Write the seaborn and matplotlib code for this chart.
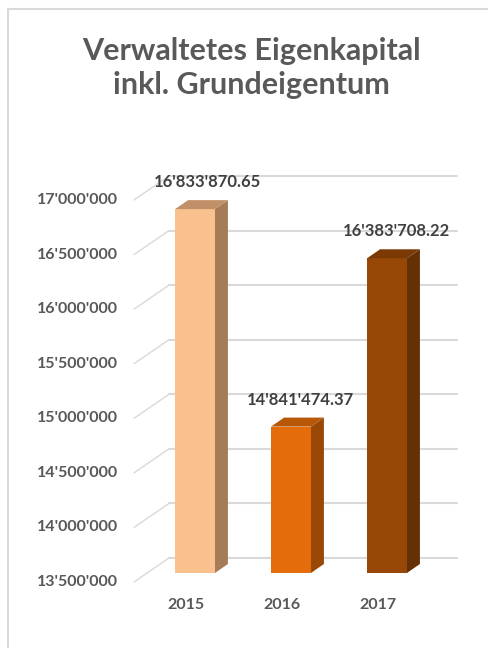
import matplotlib
matplotlib.use("Agg")
import matplotlib.pyplot as plt
import pandas as pd
import seaborn as sns
from matplotlib.patches import Polygon
from matplotlib.lines import Line2D

# Data
years = ['2015', '2016', '2017']
values = [16833870.65, 14841474.37, 16383708.22]
value_labels = ["16'833'870.65", "14'841'474.37", "16'383'708.22"]
y_ticks = [13500000, 14000000, 14500000, 15000000, 15500000, 16000000, 16500000, 17000000]
y_tick_labels = ["13'500'000", "14'000'000", "14'500'000", "15'000'000",
                 "15'500'000", "16'000'000", "16'500'000", "17'000'000"]
title = 'Verwaltetes Eigenkapital\ninkl. Grundeigentum'

front_colors = ['#F9C18E', '#E46C0A', '#974706']
side_colors = ['#A57B58', '#9A4806', '#643006']
top_colors = ['#C29068', '#B75707', '#7B3A05']
grid_color = '#D9D9D9'
text_color = '#595959'

sns.set_style('white')
plt.rcParams['font.family'] = ['Lato', 'DejaVu Sans']

df = pd.DataFrame({'year': years, 'value': values})

fig = plt.figure(figsize=(4.88, 6.48), dpi=100)
ax = fig.add_axes([147 / 488, 75 / 648, 288 / 488, 382 / 648])
ax.set_xlim(-0.5, 2.5)
ax.set_ylim(y_ticks[0], y_ticks[-1])
ax.axis('off')


def shift(x, y, dx, dy):
    # move a data point by a pixel offset
    px, py = ax.transData.transform((x, y))
    return ax.transData.inverted().transform((px + dx, py + dy))


# back wall gridlines and floor/side diagonals
for v, lab in zip(y_ticks, y_tick_labels):
    a = shift(-0.5, v, 22, 15)
    b = shift(2.5, v, 22, 15)
    ax.add_line(Line2D([a[0], b[0]], [a[1], b[1]], color=grid_color, lw=1.5, clip_on=False, zorder=0))
    f = shift(-0.5, v, -13, -9)
    ax.add_line(Line2D([f[0], a[0]], [f[1], a[1]], color=grid_color, lw=1.0, clip_on=False, zorder=0))
    t = shift(-0.5, v, -29, -9)
    ax.text(t[0], t[1], lab, ha='right', va='center',
            fontsize=11.5, fontweight='bold', color=text_color)

# bars (front faces)
sns.barplot(data=df, x='year', y='value', hue='year', palette=front_colors,
            width=0.415, saturation=1, legend=False, ax=ax, zorder=2, linewidth=0)
ax.set_xlim(-0.5, 2.5)
ax.set_ylim(y_ticks[0], y_ticks[-1])

base = y_ticks[0]
for i, bar in enumerate(ax.patches):
    xl = bar.get_x()
    xr = xl + bar.get_width()
    v = values[i]
    side = [(xr, base), (xr, v), tuple(shift(xr, v, 13, 9)), tuple(shift(xr, base, 13, 9))]
    top = [(xl, v), (xr, v), tuple(shift(xr, v, 13, 9)), tuple(shift(xl, v, 13, 9))]
    ax.add_patch(Polygon(side, closed=True, facecolor=side_colors[i], edgecolor='none',
                         clip_on=False, zorder=1.5))
    ax.add_patch(Polygon(top, closed=True, facecolor=top_colors[i], edgecolor='none',
                         clip_on=False, zorder=2.5))
    lab = shift(i, v, 12 if i == 0 else 9, 27)
    ax.text(lab[0], lab[1], value_labels[i], ha='center', va='center',
            fontsize=12, fontweight='bold', color='#404040')
    yl = shift(i, base, -9, -32)
    ax.text(yl[0], yl[1], years[i], ha='center', va='center',
            fontsize=11.5, fontweight='bold', color=text_color)

# title
fig.text(251 / 488, 1 - 68 / 648, title, ha='center', va='center', fontsize=22,
         fontweight='bold', color=text_color, linespacing=1.25)

# chart border
fig.add_artist(Line2D([8 / 488, 8 / 488], [0, 1 - 9 / 648], color=grid_color, lw=1.5))
fig.add_artist(Line2D([8 / 488, 1], [1 - 9 / 648, 1 - 9 / 648], color=grid_color, lw=1.5))

fig.savefig('out.png', dpi=100)
